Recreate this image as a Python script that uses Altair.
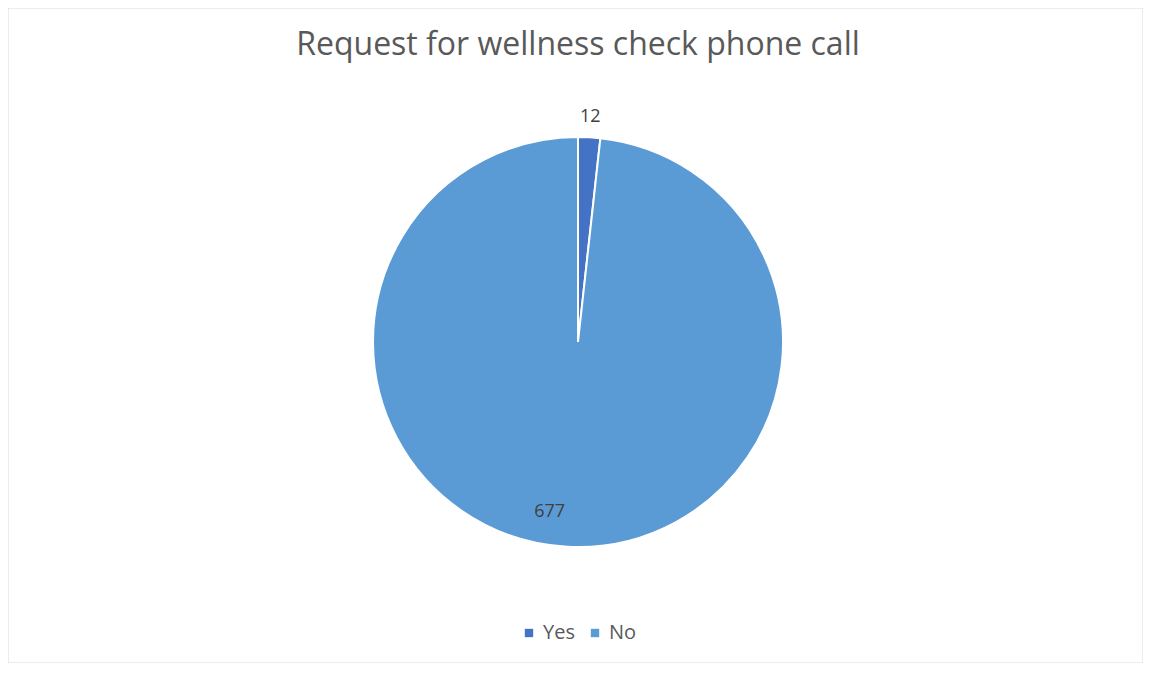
import math
import altair as alt
import pandas as pd

categories = ["Yes", "No"]
counts = [12, 677]
colors = ["#4472C4", "#5B9BD5"]

df = pd.DataFrame({"category": categories, "count": counts, "idx": list(range(len(categories)))})

W, H = 1135, 655
CX, CY, R = 570, 334, 205
FONT = "Open Sans"

base = alt.Chart(df).encode(
    theta=alt.Theta("count:Q", stack=True),
    order=alt.Order("idx:Q"),
)

frame = alt.Chart(pd.DataFrame({"k": [0]})).mark_rect(
    fill="white", stroke="#d9d9d9", strokeWidth=1
).encode(x=alt.value(0), x2=alt.value(W), y=alt.value(0), y2=alt.value(H))

pie = base.mark_arc(radius=R, stroke="white", strokeWidth=2, x=CX, y=CY).encode(
    color=alt.Color(
        "category:N",
        scale=alt.Scale(domain=categories, range=colors),
        legend=alt.Legend(
            title=None,
            orient="none",
            legendX=511,
            legendY=615,
            direction="horizontal",
            symbolType="square",
            symbolSize=70,
            symbolStrokeWidth=0,
            labelFontSize=20,
            labelFont=FONT,
            labelColor="#595959",
            columnPadding=10,
            symbolOffset=0,
        ),
    )
)

lab_yes = base.mark_text(radius=225, x=CX, y=CY, font=FONT, fontSize=18, color="#404040").encode(
    text="count:Q"
).transform_filter(alt.datum.category == "Yes")

lab_no = alt.Chart(df).mark_text(radius=172, x=CX, y=CY, font=FONT, fontSize=18, color="#404040").encode(
    theta=alt.value(math.radians(189.5)),
    text="count:Q",
).transform_filter(alt.datum.category == "No")

title = alt.Chart(pd.DataFrame({"t": ["Request for wellness check phone call"]})).mark_text(
    font=FONT, fontSize=32, color="#595959", baseline="alphabetic"
).encode(x=alt.value(CX), y=alt.value(47), text="t:N")

chart = alt.layer(frame, pie, lab_yes, lab_no, title).properties(
    width=W, height=H, autosize=alt.AutoSizeParams(type="none"), padding=0
).configure_view(stroke=None)

chart.save("out.html", embed_options={"renderer": "svg", "actions": False})
